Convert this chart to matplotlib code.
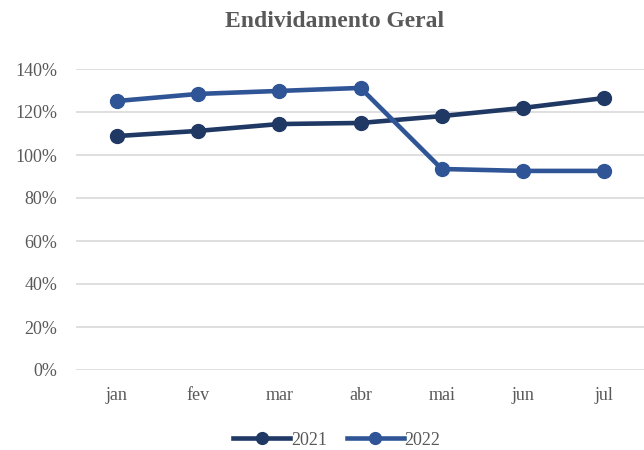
import matplotlib.pyplot as plt
from matplotlib.ticker import PercentFormatter

# data
meses = ['jan', 'fev', 'mar', 'abr', 'mai', 'jun', 'jul']
end_2021 = [108.8, 111.2, 114.4, 114.9, 118.1, 121.9, 126.5]
end_2022 = [125.1, 128.4, 129.8, 131.2, 93.5, 92.6, 92.6]

plt.rcParams['font.family'] = ['Liberation Serif', 'DejaVu Serif']
cinza = '#595959'

fig = plt.figure(figsize=(6.44, 4.5), dpi=100)
ax = fig.add_axes([76/644, 1-370/450, 569/644, 301/450])

x = range(len(meses))
ax.plot(x, end_2021, color='#1f3864', lw=3.3, marker='o', ms=10, label='2021', zorder=3)
ax.plot(x, end_2022, color='#2f5597', lw=3.3, marker='o', ms=10, label='2022', zorder=3)

ax.set_xlim(-0.5, 6.5)
ax.set_ylim(0, 140)
ax.set_yticks(range(0, 141, 20))
ax.yaxis.set_major_formatter(PercentFormatter(decimals=0))
ax.set_xticks(list(x))
ax.set_xticklabels(meses)
ax.grid(axis='y', color='#d9d9d9', lw=1.2)
ax.set_axisbelow(True)
for s in ax.spines.values():
    s.set_visible(False)
ax.tick_params(length=0, labelsize=13, colors=cinza, pad=12)
ax.tick_params(axis='y', pad=13.5)

fig.text(0.52, 0.953, 'Endividamento Geral', ha='center', va='center',
         fontsize=17, fontweight='bold', color=cinza)
fig.legend(loc='center', bbox_to_anchor=(0.523, 0.022), ncol=2, frameon=False,
           fontsize=13, labelcolor=cinza, handlelength=3.15, handletextpad=0.05,
           columnspacing=1.1, markerscale=0.85)

fig.savefig('out.png', dpi=100)
